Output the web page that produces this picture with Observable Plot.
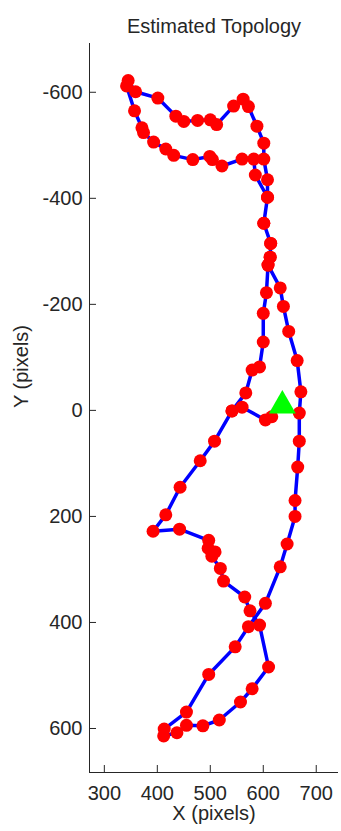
<!DOCTYPE html>
<html><head><meta charset="utf-8">
<script src="https://cdn.jsdelivr.net/npm/d3@7"></script>
<script src="https://cdn.jsdelivr.net/npm/@observablehq/plot@0.6"></script>
<style>html,body{margin:0;padding:0;background:#fff;} svg{display:block}</style>
</head><body><div id="chart"></div>
<script>
// Estimated trajectory, in path order (X, Y in pixels)
const pathX = [616,604,560,541,567,579,593,600,600,606,609,613,614,601,608,608,601,601,588,572,562,544,512,500,476,450,435,401,359,345,342,357,371,374,393,416,431,467,499,504,522,560,582,585,608,601,614,613,609,632,638,648,664,671,668,668,665,660,660,645,632,604,572,547,497,455,413,412,437,455,486,517,557,579,610,593,575,565,525,519,503,509,496,497,442,392,416,443,481,508,541];
const pathY = [12,18,-6,1,-33,-76,-82,-129,-183,-222,-274,-289,-315,-353,-402,-435,-474,-504,-536,-573,-587,-574,-539,-548,-547,-545,-555,-589,-601,-622,-612,-565,-533,-524,-506,-493,-481,-473,-479,-473,-461,-474,-474,-444,-402,-353,-315,-289,-274,-231,-196,-149,-94,-35,5,58,107,170,200,252,295,364,408,446,498,569,601,614,608,594,595,584,550,525,484,405,378,352,322,298,275,267,260,245,224,228,197,145,95,58,1];
// Start pose marker
const startX = [636];
const startY = [-9];
const xTicks = [300,400,500,600,700];
const yTicks = [-600,-400,-200,0,200,400,600];
const xDomain = [272, 742];
const yDomain = [-692, 683];
const titleText = "Estimated Topology";
const xLabel = "X (pixels)";
const yLabel = "Y (pixels)";

const path = pathX.map((x, i) => ({x, y: pathY[i]}));
const start = startX.map((x, i) => ({x, y: startY[i]}));
const ink = "#262626";
const font = "'Liberation Sans', Arial, Helvetica, sans-serif";

const chart = Plot.plot({
  width: 341, height: 831,
  marginLeft: 89, marginRight: 3, marginTop: 43, marginBottom: 59,
  style: {fontFamily: font, fontSize: "20px", color: ink, background: "#fff", overflow: "visible"},
  x: {domain: xDomain},
  y: {domain: yDomain, reverse: true},
  marks: [
    Plot.ruleX([xDomain[0]], {stroke: ink, strokeWidth: 1}),
    Plot.ruleY([yDomain[1]], {stroke: ink, strokeWidth: 1}),
    Plot.axisX({ticks: xTicks, tickSize: -7, tickPadding: 20, label: null, fontSize: 20, tickFormat: d => String(d)}),
    Plot.axisY({ticks: yTicks, tickSize: -7, tickPadding: 14, label: null, fontSize: 20, tickFormat: d => String(d)}),
    Plot.line(path, {x: "x", y: "y", stroke: "#0000ff", strokeWidth: 3.5}),
    Plot.dot(path, {x: "x", y: "y", r: 6.5, fill: "#ff0000"}),
    Plot.dot(start, {x: "x", y: "y", r: 10, symbol: "triangle", fill: "#00ff00"}),
    Plot.text([titleText], {text: d => d, frameAnchor: "top", dy: -25, fontSize: 20, fill: ink}),
    Plot.text([xLabel], {text: d => d, frameAnchor: "bottom", dy: 47.6, fontSize: 20, fill: ink}),
    Plot.text([yLabel], {text: d => d, frameAnchor: "left", dx: -68.4, rotate: -90, fontSize: 20, fill: ink})
  ]
});
document.getElementById("chart").appendChild(chart);
</script>
</body></html>
